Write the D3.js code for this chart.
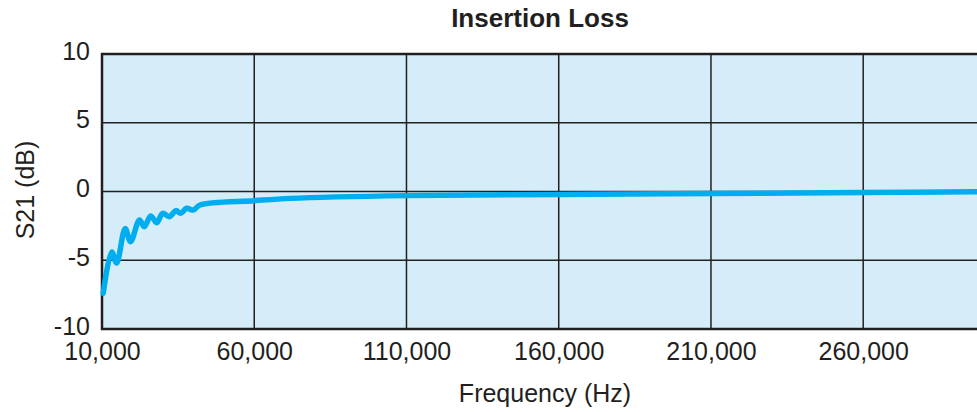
<html lang="en">
<head>
<meta charset="utf-8">
<title>Insertion Loss</title>
<script src="https://cdn.jsdelivr.net/npm/d3@7"></script>
<style>
  body { margin: 0; background: #fff; }
  text { font-family: "Liberation Sans", Arial, sans-serif; fill: #231f20; }
</style>
</head>
<body>
<script>
// measured trace (Hz, dB)
var freq = [10400, 13200, 14800, 17600, 19400, 22300, 23900, 26000, 28000, 29900, 32100, 34300, 35800, 37800, 40000, 42200, 60000, 71800, 110000, 160000, 210000, 260000, 300000];
var s21  = [-7.4, -4.4, -5.2, -2.7, -3.65, -2.07, -2.56, -1.78, -2.27, -1.59, -1.83, -1.39, -1.59, -1.22, -1.35, -0.98, -0.67, -0.5, -0.3, -0.22, -0.15, -0.08, -0.02];
var xTicks = [10000, 60000, 110000, 160000, 210000, 260000];
var yTicks = [-10, -5, 0, 5, 10];

var w = 977, h = 412;
var pLeft = 102, pRight = 985, pTop = 54, pBottom = 329;

var svg = d3.select("body").append("svg")
  .attr("width", w)
  .attr("height", h);

var x = d3.scaleLinear().domain([10000, 300000]).range([pLeft, pRight]);
var y = d3.scaleLinear().domain([-10, 10]).range([pBottom, pTop]);

svg.append("rect")
  .attr("x", pLeft).attr("y", pTop)
  .attr("width", pRight - pLeft).attr("height", pBottom - pTop)
  .attr("fill", "#d4edf9");

// grid
svg.append("g").selectAll("line")
  .data(xTicks.slice(1))
  .enter().append("line")
  .attr("x1", function(d) { return x(d); })
  .attr("x2", function(d) { return x(d); })
  .attr("y1", pTop).attr("y2", pBottom)
  .attr("stroke", "#231f20").attr("stroke-width", 1.5);

svg.append("g").selectAll("line")
  .data([-5, 0, 5])
  .enter().append("line")
  .attr("x1", pLeft).attr("x2", pRight)
  .attr("y1", function(d) { return y(d); })
  .attr("y2", function(d) { return y(d); })
  .attr("stroke", "#231f20").attr("stroke-width", 1.5);

// frame
svg.append("rect")
  .attr("x", pLeft).attr("y", pTop)
  .attr("width", pRight - pLeft).attr("height", pBottom - pTop)
  .attr("fill", "none")
  .attr("stroke", "#231f20").attr("stroke-width", 2.5);

var xAxis = d3.axisBottom(x).tickValues(xTicks).tickSize(0).tickPadding(13)
  .tickFormat(d3.format(","));
var gX = svg.append("g")
  .attr("transform", "translate(0," + pBottom + ")")
  .call(xAxis);
gX.select(".domain").remove();
gX.selectAll("text").attr("font-size", 25).attr("font-family", null).attr("fill", "#231f20");

var yAxis = d3.axisLeft(y).tickValues(yTicks).tickSize(0).tickPadding(12)
  .tickFormat(function(d) { return String(d); });
var gY = svg.append("g")
  .attr("transform", "translate(" + pLeft + ",-3)")
  .call(yAxis);
gY.select(".domain").remove();
gY.selectAll("text").attr("font-size", 25).attr("font-family", null).attr("fill", "#231f20");

// curve
var pts = freq.map(function(f, i) { return [f, s21[i]]; });
var line = d3.line()
  .x(function(d) { return x(d[0]); })
  .y(function(d) { return y(d[1]); })
  .curve(d3.curveCatmullRom);
svg.append("path")
  .attr("d", line(pts))
  .attr("fill", "none")
  .attr("stroke", "#00aeef")
  .attr("stroke-width", 5.5)
  .attr("stroke-linecap", "round");

svg.append("text")
  .attr("x", 540).attr("y", 27)
  .attr("text-anchor", "middle")
  .attr("font-size", 26).attr("font-weight", "bold")
  .text("Insertion Loss");

svg.append("text")
  .attr("x", 545).attr("y", 402)
  .attr("text-anchor", "middle")
  .attr("font-size", 25)
  .text("Frequency (Hz)");

svg.append("text")
  .attr("transform", "translate(34,190) rotate(-90)")
  .attr("text-anchor", "middle")
  .attr("font-size", 25)
  .text("S21 (dB)");
</script>
</body>
</html>
